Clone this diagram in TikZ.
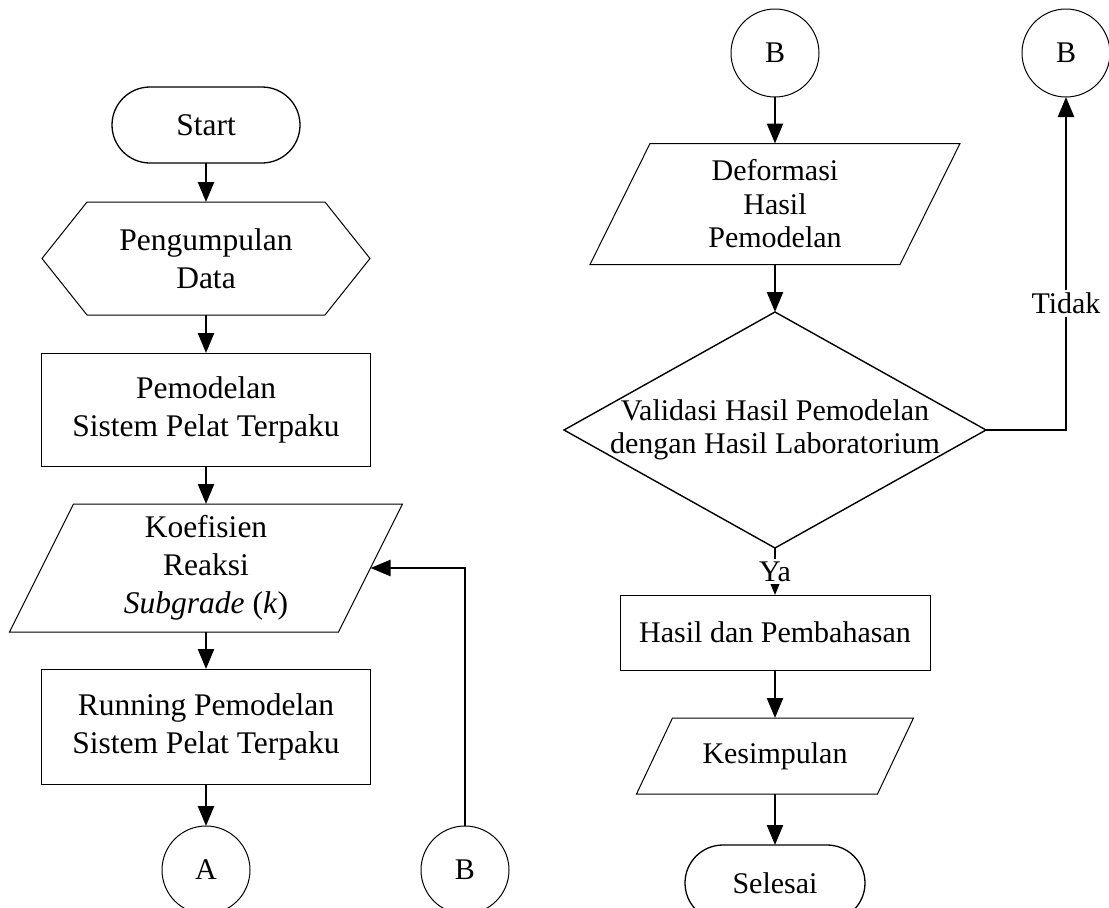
\documentclass[tikz,border=0pt]{standalone}
\usepackage{fontspec}
\setmainfont{Liberation Serif}
\usetikzlibrary{arrows.meta,shapes.misc}
\tikzstyle{text-node}=[align=center,inner sep=0pt,outer sep=0pt,font=\fontsize{30}{33.5}\selectfont]
\tikzstyle{big-text}=[font=\fontsize{31.5}{38}\selectfont]
\tikzstyle{plain-node}=[text-node,draw=none,rectangle]
\tikzstyle{box-node}=[text-node,draw,line width=1pt,rectangle]
\tikzstyle{term-node}=[text-node,draw,line width=1.3pt,rounded rectangle,minimum height=76pt]
\tikzstyle{link-node}=[text-node,draw,line width=1pt,circle,minimum size=88pt]
\tikzstyle{label-node}=[text-node,fill=white,inner sep=3pt]
\tikzstyle{shape-line}=[draw=black,line width=1pt]
\tikzstyle{black-line}=[draw=black,line width=2.4pt]

\begin{document}
\begin{tikzpicture}[x=1pt,y=-1pt]
        \useasboundingbox (0,0) rectangle (1109,908);
        \begin{scope}
            % left column
            \node (start)[term-node,big-text,minimum width=188pt] at (206,125) {Start};
            \node (data)[plain-node,big-text,minimum width=328pt,minimum height=113pt] at (206,258.5) {Pengumpulan\\Data};
            \node (model)[box-node,big-text,minimum width=329pt,minimum height=113pt] at (206,409.5) {Pemodelan\\Sistem Pelat Terpaku};
            \node (koef)[plain-node,big-text,minimum width=329pt,minimum height=128pt] at (206,568) {Koefisien\\Reaksi\\\textit{Subgrade} (\textit{k})};
            \node (run)[box-node,big-text,minimum width=329pt,minimum height=115pt] at (206,726.5) {Running Pemodelan\\Sistem Pelat Terpaku};
            \node (a)[link-node] at (206,870) {A};
            \node (b1)[link-node] at (465,870) {B};
            % right column
            \node (b2)[link-node] at (775,53) {B};
            \node (b3)[link-node] at (1066,53) {B};
            \node (deform)[plain-node,minimum width=310pt,minimum height=121pt] at (775,204) {Deformasi\\Hasil\\Pemodelan};
            \node (val)[plain-node,minimum width=422pt,minimum height=236pt] at (775,430) {Validasi Hasil Pemodelan\\dengan Hasil Laboratorium};
            \node (hasil)[box-node,minimum width=310pt,minimum height=75pt] at (775,632.5) {Hasil dan Pembahasan};
            \node (kes)[plain-node,minimum width=241pt,minimum height=76pt] at (775,756) {Kesimpulan};
            \node (selesai)[term-node,minimum width=180pt] at (775,883) {Selesai};
        \end{scope}

        % outlines of the drawn shapes
        \draw[shape-line] (data.west) -- ([xshift=45pt]data.north west) -- ([xshift=-45pt]data.north east)
            -- (data.east) -- ([xshift=-45pt]data.south east) -- ([xshift=45pt]data.south west) -- cycle;
        \draw[shape-line] ([xshift=32pt]koef.north west) -- ([xshift=32pt]koef.north east)
            -- ([xshift=-32pt]koef.south east) -- ([xshift=-32pt]koef.south west) -- cycle;
        \draw[shape-line] ([xshift=30pt]deform.north west) -- ([xshift=30pt]deform.north east)
            -- ([xshift=-30pt]deform.south east) -- ([xshift=-30pt]deform.south west) -- cycle;
        \draw[shape-line,line width=1.4pt] (val.north) -- (val.east) -- (val.south) -- (val.west) -- cycle;
        \draw[shape-line] ([xshift=18pt]kes.north west) -- ([xshift=18pt]kes.north east)
            -- ([xshift=-18pt]kes.south east) -- ([xshift=-18pt]kes.south west) -- cycle;

        \begin{scope}[>={Triangle[length=20pt,width=16pt]}, every edge/.style=black-line]
            \path [->] (start) edge node {} (data);
            \path [->] (data) edge node {} (model);
            \path [->] (model) edge node {} (koef);
            \path [->] (koef) edge node {} (run);
            \path [->] (run) edge node {} (a);
            \draw [->,black-line] (b1) |- (koef.east);
            \path [->] (b2) edge node {} (deform);
            \path [->] (deform) edge node {} (val);
            \path [->] (val.south) edge node [label-node] {Ya} (hasil);
            \draw [->,black-line] (val.east) -| node [label-node,pos=0.69] {Tidak} (b3);
            \path [->] (hasil) edge node {} (kes);
            \path [->] (kes) edge node {} (selesai);
        \end{scope}

    \end{tikzpicture}
\end{document}
